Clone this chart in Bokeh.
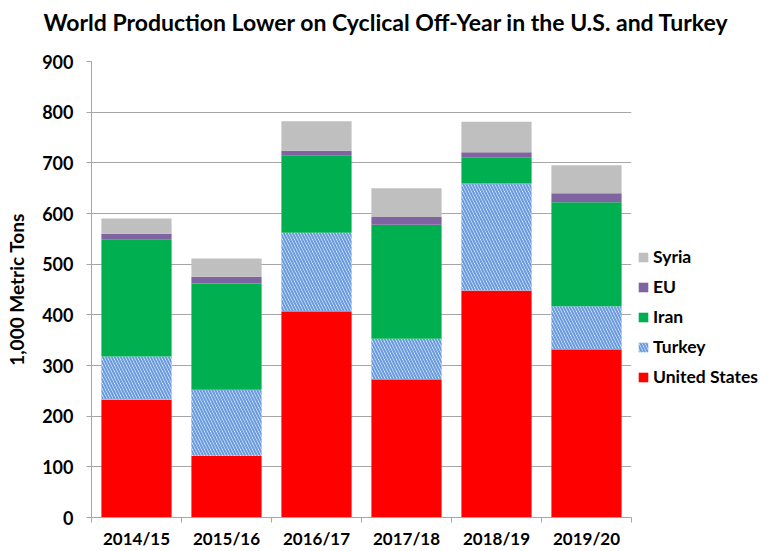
from bokeh.plotting import figure
from bokeh.models import (ColumnDataSource, Range1d, FixedTicker, Legend, LegendItem, Title)
from bokeh.embed import file_html
from bokeh.resources import INLINE

years = ["2014/15", "2015/16", "2016/17", "2017/18", "2018/19", "2019/20"]
us = [233, 122, 407, 273, 448, 332]
turkey = [85, 130, 155, 80, 211, 85]
iran = [231, 210, 153, 225, 51, 205]
eu = [11, 13, 9, 15, 11, 18]
syria = [30, 36, 58, 57, 60, 55]

series_names = ["United States", "Turkey", "Iran", "EU", "Syria"]
series_vals = [us, turkey, iran, eu, syria]
colors = ["#FF0000", "#FFFFFF", "#00B050", "#8064A2", "#BFBFBF"]
hatches = [" ", "\\", " ", " ", " "]
title_text = "World Production Lower on Cyclical Off-Year in the U.S. and Turkey"

FONT = "Lato"
GRID = "#A6A6A6"
TXT = "#000000"

xs = [i + 0.5 for i in range(len(years))]
data = {"x": xs}
for n, v in zip(series_names, series_vals):
    data[n] = v
source = ColumnDataSource(data)

p = figure(frame_width=540, frame_height=456, output_backend="svg", toolbar_location=None,
           x_range=Range1d(0, len(years)), y_range=Range1d(0, 900),
           min_border_left=91, min_border_right=143, min_border_top=61,
           min_border_bottom=34, title=None)
p.outline_line_color = None

rs = p.vbar_stack(series_names, x="x", width=0.78, source=source,
                  fill_color=colors, line_color=None,
                  hatch_pattern=hatches, hatch_color="#6A9BDE",
                  hatch_scale=6, hatch_weight=2.2)

spacer = Title(text=" ", text_font_size="12px", standoff=7)
p.add_layout(spacer, "above")
title = Title(text=title_text, text_font=FONT, text_font_size="23px",
              text_font_style="bold", text_color=TXT, align="left",
              offset=-48, standoff=5)
p.add_layout(title, "above")

p.xgrid.visible = False
p.ygrid.grid_line_color = GRID
p.ygrid.grid_line_width = 1

yax = p.yaxis[0]
yax.ticker = FixedTicker(ticks=list(range(0, 901, 100)), minor_ticks=[])
yax.axis_line_color = GRID
yax.major_tick_line_color = GRID
yax.major_tick_out = 5
yax.major_tick_in = 0
yax.major_label_text_font = FONT
yax.major_label_text_font_size = "18px"
yax.major_label_text_font_style = "bold"
yax.major_label_text_color = TXT
yax.major_label_standoff = 13
yax.axis_label = "1,000 Metric Tons"
yax.axis_label_text_font = FONT
yax.axis_label_text_font_size = "19px"
yax.axis_label_text_font_style = "bold"
yax.axis_label_text_color = TXT
yax.axis_label_standoff = 11

xax = p.xaxis[0]
xax.ticker = FixedTicker(ticks=xs, minor_ticks=list(range(len(years) + 1)))
xax.major_label_overrides = {x: y for x, y in zip(xs, years)}
xax.axis_line_color = GRID
xax.major_tick_line_color = None
xax.major_tick_out = 0
xax.major_tick_in = 0
xax.minor_tick_line_color = GRID
xax.minor_tick_out = 5
xax.minor_tick_in = 0
xax.major_label_text_font = FONT
xax.major_label_text_font_size = "17px"
xax.major_label_text_font_style = "bold"
xax.major_label_text_color = TXT
xax.major_label_standoff = 5

items = [LegendItem(label=n, renderers=[r]) for n, r in zip(series_names, rs)]
items = items[::-1]
legend = Legend(items=items, location=(6, 130))
legend.label_text_font = FONT
legend.label_text_font_size = "17.5px"
legend.label_text_font_style = "bold"
legend.label_text_color = TXT
legend.glyph_width = 12
legend.glyph_height = 12
legend.label_standoff = 4
legend.label_height = 20
legend.spacing = 9
legend.padding = 0
legend.margin = 0
legend.border_line_color = None
legend.background_fill_alpha = 0
p.add_layout(legend, "right")

open("out.html", "w").write(file_html(p, INLINE))
